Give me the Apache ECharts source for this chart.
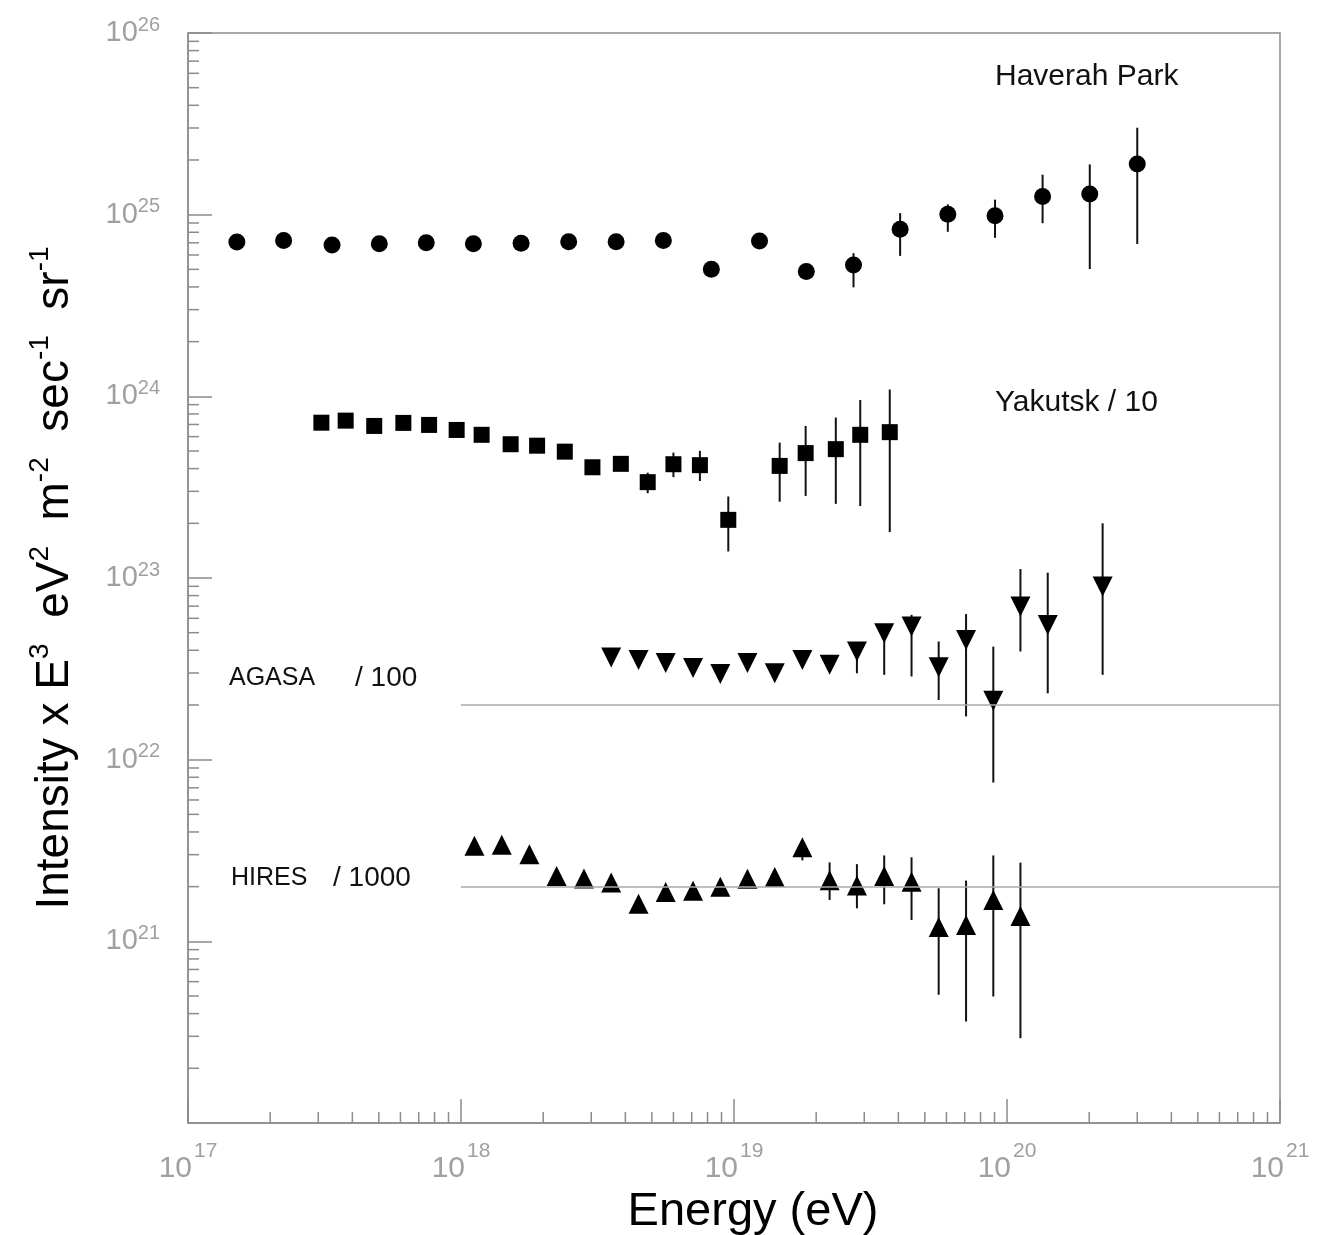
<!DOCTYPE html>
<html>
<head>
<meta charset="utf-8">
<script src="https://cdn.jsdelivr.net/npm/echarts@6/dist/echarts.min.js"></script>
<style>
  html, body { margin: 0; padding: 0; background: #fff; }
  #chart { width: 1321px; height: 1235px; }
</style>
</head>
<body>
<div id="chart"></div>
<script>
// Haverah Park (circles)
const hpEnergy = [1.51e17, 2.24e17, 3.37e17, 5.02e17, 7.46e17, 1.11e18, 1.66e18, 2.48e18, 3.70e18, 5.51e18,
  8.26e18, 1.24e19, 1.84e19, 2.74e19, 4.06e19, 6.07e19, 9.04e19, 1.35e20, 2.01e20, 3.00e20]
const hpFlux = [7.08e24, 7.2e24, 6.81e24, 6.92e24, 7.01e24, 6.92e24, 6.96e24, 7.1e24, 7.1e24, 7.2e24,
  5.0e24, 7.16e24, 4.87e24, 5.28e24, 8.32e24, 1.005e25, 9.86e24, 1.26e25, 1.30e25, 1.90e25]
const hpErr = [null, null, null, null, null, null, null, null, null, null,
  null, null, null, [3.98e24, 6.14e24], [5.93e24, 1.02e25], [8.05e24, 1.14e25], [7.46e24, 1.21e25],
  [8.97e24, 1.66e25], [5.02e24, 1.89e25], [6.90e24, 3.01e25]]

// Yakutsk / 10 (squares)
const yakEnergy = [3.08e17, 3.78e17, 4.81e17, 6.15e17, 7.64e17, 9.64e17, 1.19e18, 1.52e18, 1.90e18, 2.40e18,
  3.03e18, 3.85e18, 4.83e18, 6.00e18, 7.50e18, 9.53e18, 1.47e19, 1.83e19, 2.36e19, 2.90e19, 3.72e19]
const yakFlux = [7.16e23, 7.35e23, 6.87e23, 7.14e23, 6.96e23, 6.53e23, 6.14e23, 5.45e23, 5.35e23, 4.96e23,
  4.07e23, 4.25e23, 3.37e23, 4.23e23, 4.18e23, 2.09e23, 4.14e23, 4.87e23, 5.12e23, 6.14e23, 6.35e23]
const yakErr = [null, null, null, null, null, null, null, null, null, null,
  null, null, [2.93e23, 3.80e23], [3.59e23, 4.90e23], [3.42e23, 5.01e23], [1.40e23, 2.81e23],
  [2.63e23, 5.56e23], [2.83e23, 6.87e23], [2.56e23, 7.64e23], [2.49e23, 9.55e23], [1.79e23, 1.09e24]]

// AGASA / 100 (down triangles)
const agasaEnergy = [3.55e18, 4.47e18, 5.62e18, 7.08e18, 8.91e18, 1.12e19, 1.41e19, 1.78e19, 2.24e19,
  2.82e19, 3.55e19, 4.47e19, 5.62e19, 7.08e19, 8.91e19, 1.12e20, 1.41e20, 2.24e20]
const agasaFlux = [3.65e22, 3.54e22, 3.40e22, 3.20e22, 2.96e22, 3.40e22, 2.99e22, 3.54e22, 3.33e22,
  3.94e22, 4.97e22, 5.40e22, 3.23e22, 4.56e22, 2.11e22, 6.97e22, 5.52e22, 8.98e22]
const agasaErr = [null, null, null, null, null, null, null, null, null,
  [2.99e22, 3.94e22], [2.93e22, 4.97e22], [2.87e22, 6.27e22], [2.13e22, 4.47e22], [1.73e22, 6.33e22],
  [7.48e21, 4.19e22], [3.94e22, 1.12e23], [2.32e22, 1.07e23], [2.93e22, 2.00e23]]

// HIRES / 1000 (up triangles)
const hiresEnergy = [1.12e18, 1.41e18, 1.78e18, 2.24e18, 2.82e18, 3.55e18, 4.47e18, 5.62e18, 7.08e18,
  8.91e18, 1.12e19, 1.41e19, 1.78e19, 2.24e19, 2.82e19, 3.55e19, 4.47e19, 5.62e19, 7.08e19, 8.91e19, 1.12e20]
const hiresFlux = [3.36e21, 3.40e21, 3.02e21, 2.29e21, 2.22e21, 2.11e21, 1.61e21, 1.87e21, 1.90e21,
  2.00e21, 2.21e21, 2.26e21, 3.30e21, 2.17e21, 2.03e21, 2.29e21, 2.13e21, 1.20e21, 1.23e21, 1.69e21, 1.38e21]
const hiresErr = [null, null, null, null, null, null, null, null, null,
  null, null, null, [2.79e21, 3.30e21], [1.69e21, 2.72e21], [1.52e21, 2.66e21], [1.60e21, 2.97e21],
  [1.31e21, 2.90e21], [5.08e20, 1.96e21], [3.62e20, 2.16e21], [4.97e20, 2.97e21], [2.93e20, 2.71e21]]

// horizontal reference levels
const agasaRef = 2e22
const hiresRef = 2e21

const FONT = '"Liberation Sans", Arial, Helvetica, sans-serif'
const X_MIN = 1e17, X_MAX = 1e21, Y_MIN = 1e20, Y_MAX = 1e26
const AXIS_GREY = '#8c8c8c'
const LABEL_GREY = '#a0a0a0'

const pairs = (xs, ys) => xs.map((x, i) => [x, ys[i]])
const errRows = (xs, errs) => xs.map((x, i) => errs[i] ? [x, errs[i][0], errs[i][1]] : null).filter(Boolean)

// minor tick positions 2..9 in each decade
const minorTicks = (lo, hi) => {
  const out = []
  for (let e = Math.log10(lo); e < Math.log10(hi); e++) {
    for (let m = 2; m <= 9; m++) out.push(m * Math.pow(10, e))
  }
  return out
}

const errorBarSeries = (rows) => ({
  type: 'custom',
  silent: true,
  z: 1,
  encode: { x: 0, y: [1, 2] },
  data: rows,
  renderItem(params, api) {
    const a = api.coord([api.value(0), api.value(1)])
    const b = api.coord([api.value(0), api.value(2)])
    return {
      type: 'line',
      shape: { x1: a[0], y1: a[1], x2: b[0], y2: b[1] },
      style: { stroke: '#111', lineWidth: 2 },
    }
  },
})

const chart = echarts.init(document.getElementById('chart'))

chart.setOption({
  animation: false,
  backgroundColor: '#fff',
  grid: {
    left: 188, top: 33, right: 41, bottom: 112,
    outerBoundsMode: 'none',
    containLabel: false,
    show: true, borderColor: AXIS_GREY, borderWidth: 1.5,
  },
  xAxis: {
    type: 'log', logBase: 10, min: X_MIN, max: X_MAX, splitNumber: 4,
    axisLine: { show: true, lineStyle: { color: AXIS_GREY, width: 1.5 } },
    axisTick: { show: true, inside: true, length: 24, lineStyle: { color: AXIS_GREY, width: 1.5 } },
    splitLine: { show: false },
    axisLabel: {
      margin: 18,
      formatter(v) { return '{b|10}{s|' + Math.round(Math.log10(v)) + '}' },
      rich: {
        b: { fontFamily: FONT, fontSize: 30, color: LABEL_GREY },
        s: { fontFamily: FONT, fontSize: 21, color: LABEL_GREY, padding: [0, 0, 34, 2] },
      },
    },
    name: 'Energy (eV)',
    nameLocation: 'middle',
    nameGap: 64,
    nameTextStyle: { fontFamily: FONT, fontSize: 47, color: '#000', padding: [0, 0, 0, 38] },
  },
  yAxis: {
    type: 'log', logBase: 10, min: Y_MIN, max: Y_MAX, splitNumber: 6,
    axisLine: { show: true, lineStyle: { color: AXIS_GREY, width: 1.5 } },
    axisTick: { show: true, inside: true, length: 24, lineStyle: { color: AXIS_GREY, width: 1.5 } },
    splitLine: { show: false },
    axisLabel: {
      margin: 28,
      showMinLabel: false,
      formatter(v) { return '{b|10}{s|' + Math.round(Math.log10(v)) + '}' },
      rich: {
        b: { fontFamily: FONT, fontSize: 29, color: LABEL_GREY },
        s: { fontFamily: FONT, fontSize: 20, color: LABEL_GREY, padding: [0, 0, 16, 0] },
      },
    },
    name: 'Intensity x E{s|3}  eV{s|2}  m{s|-2}  sec{s|-1}  sr{s|-1}',
    nameLocation: 'middle',
    nameRotate: 90,
    nameGap: 104,
    nameTextStyle: {
      fontFamily: FONT, fontSize: 46, color: '#000',
      rich: { s: { fontFamily: FONT, fontSize: 28, color: '#000', padding: [0, 0, 30, 0] } },
    },
  },
  graphic: [
    { type: 'text', left: 995, top: 62, style: { text: 'Haverah Park', font: '30px ' + FONT, fill: '#111' } },
    { type: 'text', left: 995, top: 388, style: { text: 'Yakutsk / 10', font: '30px ' + FONT, fill: '#111' } },
    { type: 'text', left: 229, top: 666, style: { text: 'AGASA', font: '25px ' + FONT, fill: '#111' } },
    { type: 'text', left: 355, top: 664, style: { text: '/ 100', font: '28px ' + FONT, fill: '#111' } },
    { type: 'text', left: 231, top: 866, style: { text: 'HIRES', font: '25px ' + FONT, fill: '#111' } },
    { type: 'text', left: 333, top: 864, style: { text: '/ 1000', font: '28px ' + FONT, fill: '#111' } },
  ],
  series: [
    // minor ticks on the bottom and left axes
    {
      type: 'custom', silent: true, z: 1,
      data: minorTicks(X_MIN, X_MAX).map(v => [v, Y_MIN]),
      renderItem(params, api) {
        const p = api.coord([api.value(0), Y_MIN])
        return { type: 'line', shape: { x1: p[0], y1: p[1], x2: p[0], y2: p[1] - 11 },
          style: { stroke: AXIS_GREY, lineWidth: 1.5 } }
      },
    },
    {
      type: 'custom', silent: true, z: 1,
      data: minorTicks(Y_MIN, Y_MAX).map(v => [X_MIN, v]),
      renderItem(params, api) {
        const p = api.coord([X_MIN, api.value(1)])
        return { type: 'line', shape: { x1: p[0], y1: p[1], x2: p[0] + 11, y2: p[1] },
          style: { stroke: AXIS_GREY, lineWidth: 1.5 } }
      },
    },
    errorBarSeries(errRows(hpEnergy, hpErr)),
    errorBarSeries(errRows(yakEnergy, yakErr)),
    errorBarSeries(errRows(agasaEnergy, agasaErr)),
    errorBarSeries(errRows(hiresEnergy, hiresErr)),
    {
      name: 'Haverah Park', type: 'scatter', z: 3,
      symbol: 'circle', symbolSize: 17,
      itemStyle: { color: '#000', opacity: 1 },
      data: pairs(hpEnergy, hpFlux),
    },
    {
      name: 'Yakutsk', type: 'scatter', z: 3,
      symbol: 'rect', symbolSize: 16,
      itemStyle: { color: '#000', opacity: 1 },
      data: pairs(yakEnergy, yakFlux),
    },
    {
      name: 'AGASA', type: 'scatter', z: 3,
      symbol: 'triangle', symbolSize: 20, symbolRotate: 180,
      itemStyle: { color: '#000', opacity: 1 },
      data: pairs(agasaEnergy, agasaFlux),
      markLine: {
        silent: true, symbol: 'none', animation: false,
        label: { show: false },
        lineStyle: { color: '#aaa', width: 1.5, type: 'solid', opacity: 1 },
        data: [
          [{ coord: [1e18, agasaRef] }, { coord: [X_MAX, agasaRef] }],
          [{ coord: [1e18, hiresRef] }, { coord: [X_MAX, hiresRef] }],
        ],
      },
    },
    {
      name: 'HIRES', type: 'scatter', z: 3,
      symbol: 'triangle', symbolSize: 20,
      itemStyle: { color: '#000', opacity: 1 },
      data: pairs(hiresEnergy, hiresFlux),
    },
  ],
})
</script>
</body>
</html>
